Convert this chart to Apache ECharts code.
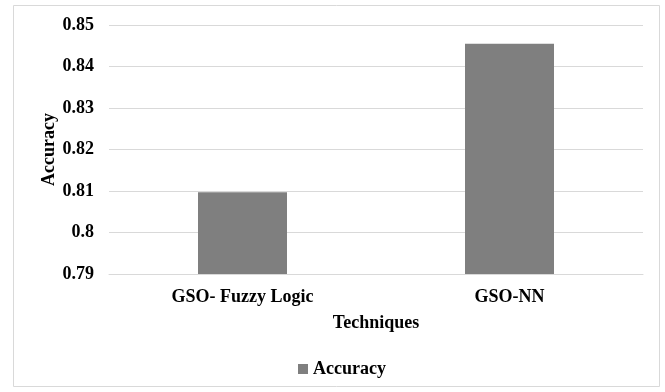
<!DOCTYPE html>
<html><head><meta charset="utf-8">
<script src="https://cdn.jsdelivr.net/npm/echarts@6/dist/echarts.min.js"></script>
<style>html,body{margin:0;padding:0;background:#fff}#c{width:665px;height:392px}</style>
</head><body><div id="c"></div>
<script>
const categories = ["GSO- Fuzzy Logic", "GSO-NN"];
const accuracy = [0.8097, 0.8455];
const seriesName = "Accuracy";
const yTitle = "Accuracy";
const xTitle = "Techniques";

const font = "'Liberation Serif', 'Times New Roman', serif";
const chart = echarts.init(document.getElementById('c'));
chart.setOption({
  animation: false,
  backgroundColor: '#fff',
  graphic: [{type:'rect', shape:{x:13.5,y:5.5,width:646,height:381}, style:{fill:'none', stroke:'#d9d9d9', lineWidth:1}}],
  grid: {left:109, right:22, top:25, bottom:118},
  legend: {
    data:[seriesName], bottom:9, left:293, itemWidth:10, itemHeight:10, icon:'rect', itemGap:4,
    textStyle:{fontFamily:font, fontWeight:'bold', fontSize:18, color:'#000'}
  },
  xAxis: {
    type:'category', data:categories,
    name:xTitle, nameLocation:'middle', nameGap:40,
    nameTextStyle:{fontFamily:font, fontWeight:'bold', fontSize:18, color:'#000'},
    axisLine:{lineStyle:{color:'#d9d9d9'}}, axisTick:{show:false},
    axisLabel:{fontFamily:font, fontWeight:'bold', fontSize:18, color:'#000', margin:14}
  },
  yAxis: {
    type:'value', min:0.79, max:0.85, interval:0.01,
    name:yTitle, nameLocation:'middle', nameGap:51, nameRotate:90, nameMoveOverlap:false,
    nameTextStyle:{fontFamily:font, fontWeight:'bold', fontSize:18, color:'#000'},
    axisLine:{show:false}, axisTick:{show:false},
    axisLabel:{fontFamily:font, fontWeight:'bold', fontSize:18, color:'#000', margin:15,
      formatter: v => String(parseFloat(v.toFixed(2)))},
    splitLine:{lineStyle:{color:'#d9d9d9'}}
  },
  series: [{
    name:seriesName, type:'bar', data:accuracy, barWidth:89,
    itemStyle:{color:'#7f7f7f'}
  }]
});
</script></body></html>
